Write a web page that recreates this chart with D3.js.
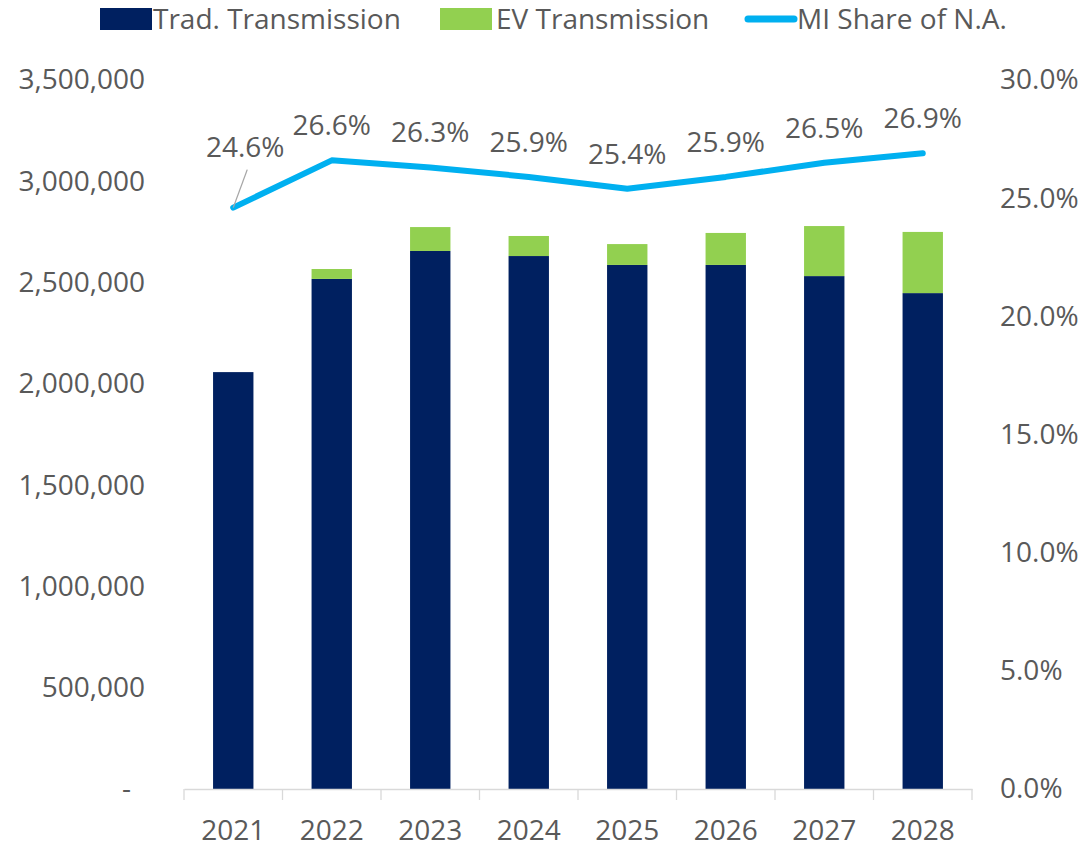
<!DOCTYPE html>
<html>
<head>
<meta charset="utf-8">
<script src="https://cdn.jsdelivr.net/npm/d3@7/dist/d3.min.js"></script>
<style>
  body { margin: 0; background: #fff; }
  text { font-family: "Open Sans", sans-serif; fill: #595959; }
  .axis text { font-size: 28px; }
  .legend text { font-size: 28px; }
  .lbl { font-size: 28px; text-anchor: middle; }
</style>
</head>
<body>
<div id="chart"></div>
<script>
var years = ["2021", "2022", "2023", "2024", "2025", "2026", "2027", "2028"];
var trad = [2058000, 2518000, 2656000, 2631000, 2587000, 2587000, 2532000, 2448000];
var ev = [0, 49000, 118000, 99000, 103000, 158000, 247000, 302000];
var share = [24.6, 26.6, 26.3, 25.9, 25.4, 25.9, 26.5, 26.9];
var leftTicks = [0, 500000, 1000000, 1500000, 2000000, 2500000, 3000000, 3500000];
var rightTicks = [0, 5, 10, 15, 20, 25, 30];

var W = 1084, H = 844;
var margin = { top: 80, left: 184, bottom: 55, right: 112 };
var width = W - margin.left - margin.right;
var height = H - margin.top - margin.bottom;

var svg = d3.select("#chart").append("svg")
    .attr("width", W).attr("height", H);
var g = svg.append("g")
    .attr("transform", "translate(" + margin.left + "," + margin.top + ")");

var x = d3.scaleBand().domain(years).range([0, width]).paddingInner(0.59).paddingOuter(0.295);
var xc = d3.scaleBand().domain(years).range([0, width]);
var y = d3.scaleLinear().domain([0, 3500000]).range([height, 0]);
var y2 = d3.scaleLinear().domain([0, 30]).range([height, 0]);

var data = years.map(function (d, i) {
    return { year: d, trad: trad[i], ev: ev[i], share: share[i] };
});

// bars
g.selectAll(".trad").data(data).enter().append("rect")
    .attr("x", function (d) { return x(d.year); })
    .attr("y", function (d) { return y(d.trad); })
    .attr("width", x.bandwidth())
    .attr("height", function (d) { return height - y(d.trad); })
    .attr("fill", "#002060");

g.selectAll(".ev").data(data).enter().append("rect")
    .attr("x", function (d) { return x(d.year); })
    .attr("y", function (d) { return y(d.trad + d.ev); })
    .attr("width", x.bandwidth())
    .attr("height", function (d) { return y(d.trad) - y(d.trad + d.ev); })
    .attr("fill", "#92D050");

// x axis
var xAxis = d3.axisBottom(xc).tickSize(0).tickPadding(0);
var xg = g.append("g").attr("class", "axis")
    .attr("transform", "translate(0," + height + ")")
    .call(xAxis);
xg.select(".domain").attr("stroke", "#d9d9d9").attr("stroke-width", 1.3);
xg.selectAll(".tick text").attr("y", 51).attr("dy", 0);
xg.selectAll(".sep").data(d3.range(years.length + 1)).enter().append("line")
    .attr("x1", function (i) { return i * xc.step(); })
    .attr("x2", function (i) { return i * xc.step(); })
    .attr("y1", 0).attr("y2", 11)
    .attr("stroke", "#d9d9d9").attr("stroke-width", 1.3);

// left axis
var yAxis = d3.axisLeft(y).tickValues(leftTicks).tickSize(0).tickPadding(39)
    .tickFormat(function (d) { return d === 0 ? "-" : d3.format(",")(d); });
var yg = g.append("g").attr("class", "axis").call(yAxis);
yg.select(".domain").remove();
yg.selectAll(".tick").filter(function (d) { return d === 0; }).select("text").attr("x", -53);

// right axis
var y2Axis = d3.axisRight(y2).tickValues(rightTicks).tickSize(0).tickPadding(28)
    .tickFormat(function (d) { return d.toFixed(1) + "%"; });
var y2g = g.append("g").attr("class", "axis")
    .attr("transform", "translate(" + width + ",0)").call(y2Axis);
y2g.select(".domain").remove();

// line
var cx = function (d) { return xc(d.year) + xc.bandwidth() / 2; };
var line = d3.line().x(cx).y(function (d) { return y2(d.share); });
g.append("path").datum(data)
    .attr("d", line)
    .attr("fill", "none")
    .attr("stroke", "#00B0F0")
    .attr("stroke-width", 6)
    .attr("stroke-linecap", "round")
    .attr("stroke-linejoin", "round");

// leader line for first label
g.append("line")
    .attr("x1", cx(data[0])).attr("y1", y2(data[0].share))
    .attr("x2", cx(data[0]) + 14).attr("y2", y2(data[0].share) - 38)
    .attr("stroke", "#a6a6a6").attr("stroke-width", 1.3);

g.selectAll(".lbl").data(data).enter().append("text")
    .attr("class", "lbl")
    .attr("x", function (d, i) { return cx(d) + (i === 0 ? 12 : 0); })
    .attr("y", function (d, i) { return y2(d.share) - (i === 0 ? 51 : 25); })
    .text(function (d) { return d.share.toFixed(1) + "%"; });

// legend
var legend = svg.append("g").attr("class", "legend");
legend.append("rect").attr("x", 100).attr("y", 8).attr("width", 52).attr("height", 22).attr("fill", "#002060");
legend.append("text").attr("x", 153).attr("y", 29).text("Trad. Transmission");
legend.append("rect").attr("x", 440).attr("y", 8).attr("width", 52).attr("height", 22).attr("fill", "#92D050");
legend.append("text").attr("x", 496).attr("y", 29).text("EV Transmission");
legend.append("line").attr("x1", 748).attr("x2", 794).attr("y1", 19).attr("y2", 19)
    .attr("stroke", "#00B0F0").attr("stroke-width", 7).attr("stroke-linecap", "round");
legend.append("text").attr("x", 797).attr("y", 29).text("MI Share of N.A.");
</script>
</body>
</html>
